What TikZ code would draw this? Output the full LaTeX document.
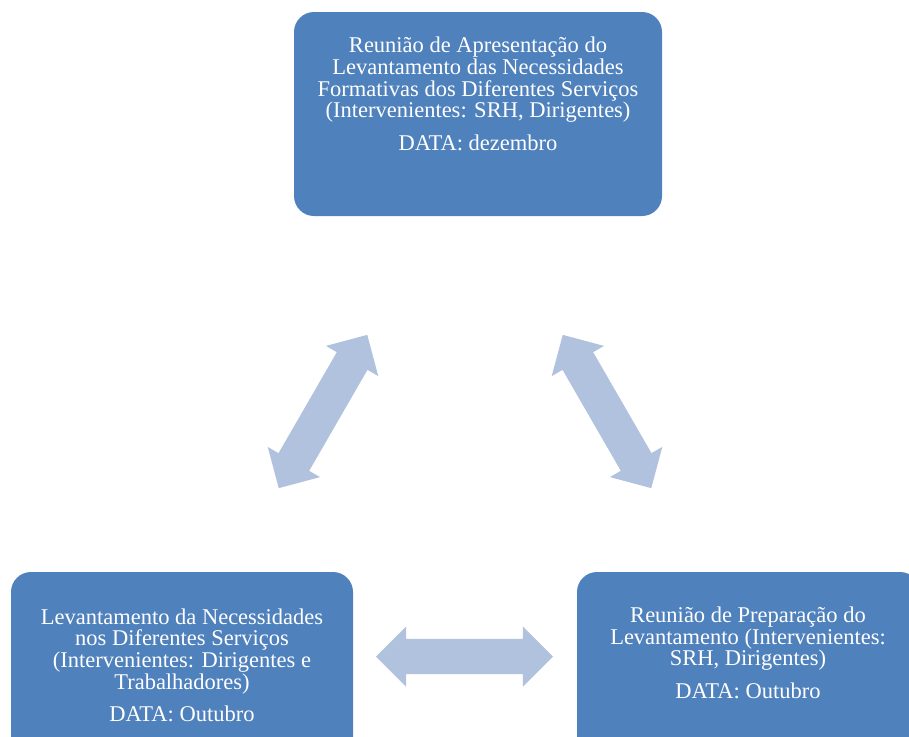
\documentclass[tikz,border=0pt]{standalone}
\usepackage{fontspec}
\setmainfont{Liberation Serif}
\usetikzlibrary{shapes.arrows}
\definecolor{boxblue}{HTML}{4F81BD}
\definecolor{arrowblue}{HTML}{B1C2DE}
\begin{document}
\begin{tikzpicture}[x=1pt,y=1pt,
  stagebox/.style={fill=boxblue, draw=none, rounded corners=20pt, inner sep=0pt},
  stagetext/.style={text=white, align=center, inner sep=0pt, anchor=north,
    font=\fontsize{22.5}{21.7}\selectfont},
  cyclearrow/.style={double arrow, fill=arrowblue, draw=none, inner xsep=0pt,
    inner ysep=17.5pt, text height=0pt, text depth=0pt,
    minimum height=177pt, minimum width=60pt, double arrow head extend=12.5pt,
    double arrow tip angle=90}]
\useasboundingbox (0,0) rectangle (909,-736);
\clip (0,0) rectangle (909,-736);
% stage boxes
\node[stagebox, minimum width=368pt, minimum height=204pt] (topbox) at (478,-114) {};
\node[stagebox, minimum width=342pt, minimum height=204pt] (leftbox) at (182,-674) {};
\node[stagebox, minimum width=343pt, minimum height=204pt] (rightbox) at (748.5,-674) {};
% texts
\node[stagetext] (toptext) at (478,-37) {Reunião de Apresentação do\\Levantamento das Necessidades\\Formativas dos Diferentes Serviços\\(Intervenientes: SRH, Dirigentes)\\[10.6pt]DATA: dezembro};
\node[stagetext] (lefttext) at (182,-608.3) {Levantamento da Necessidades\\nos Diferentes Serviços\\(Intervenientes: Dirigentes e\\Trabalhadores)\\[10.6pt]DATA: Outubro};
\node[stagetext] (righttext) at (748,-606.7) {Reunião de Preparação do\\Levantamento (Intervenientes:\\SRH, Dirigentes)\\[10.6pt]DATA: Outubro};
% cycle arrows
\node[cyclearrow, rotate=60] (leftarrow) at (323,-411.5) {};
\node[cyclearrow, rotate=-60] (rightarrow) at (607,-411.5) {};
\node[cyclearrow] (bottomarrow) at (464.5,-656.5) {};
\end{tikzpicture}
\end{document}
